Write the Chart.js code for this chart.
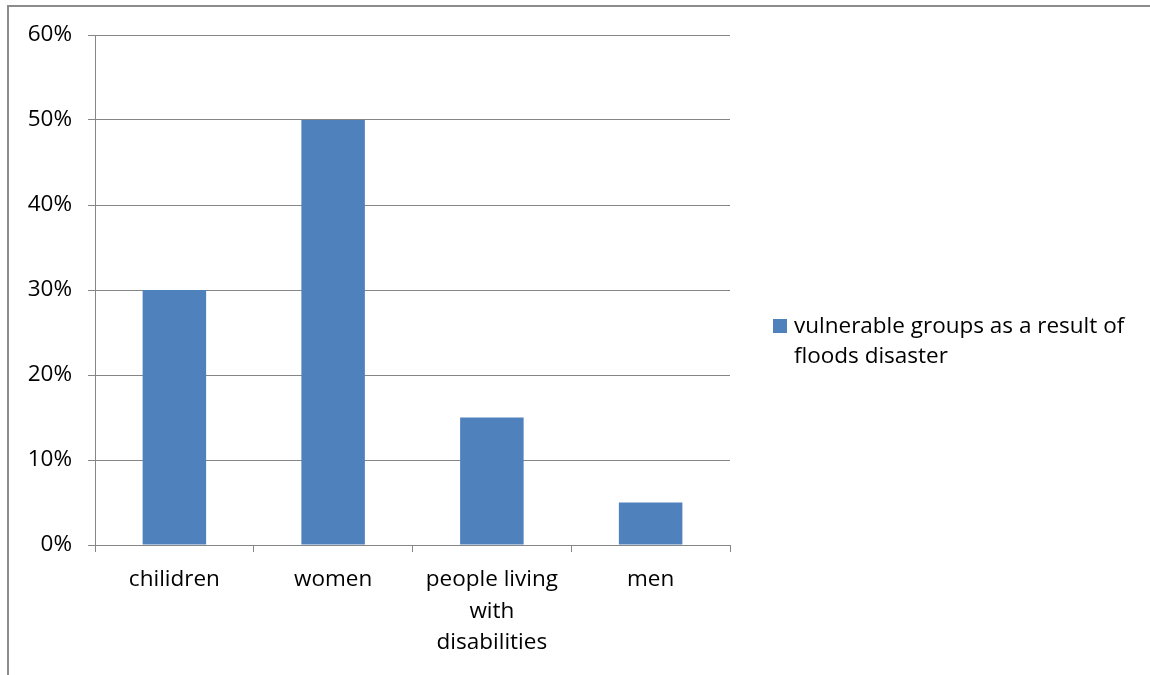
<!DOCTYPE html>
<html>
<head>
<meta charset="utf-8">
<script src="https://cdn.jsdelivr.net/npm/chart.js@4.4.1/dist/chart.umd.min.js"></script>
<style>
    html, body { margin: 0; padding: 0; background: #fff; }
    #wrap { position: relative; width: 1150px; height: 675px; overflow: hidden; }
    #frame {
        position: absolute; left: 7px; top: 5px; width: 1200px; height: 700px;
        border-top: 2px solid #8c8c8c; border-left: 2px solid #8c8c8c;
    }
    #chart { position: absolute; left: 0; top: 0; }
</style>
</head>
<body>
<div id="wrap">
    <div id="frame"></div>
    <canvas id="chart" width="1150" height="675"></canvas>
</div>
<script>
const categories = ['chilidren', 'women', ['people living', 'with', 'disabilities'], 'men'];
const shares = [30, 50, 15, 5];
const seriesLabel = 'vulnerable groups as a result of floods disaster';
const legendLines = ['vulnerable groups as a result of', 'floods disaster'];
const yTicks = [0, 10, 20, 30, 40, 50, 60];

const BAR_COLOR = '#4f81bd';
const GRID_COLOR = '#868686';
const FONT = "'Open Sans', 'Noto Sans', sans-serif";
const FONT_SIZE = 22.5;

// legend drawn by hand so the label can wrap onto two lines
const sideLegend = {
    id: 'sideLegend',
    afterDraw(chart) {
        const ctx = chart.ctx;
        const area = chart.chartArea;
        const x = area.right + 43;
        const mid = (area.top + area.bottom) / 2;
        ctx.save();
        ctx.fillStyle = BAR_COLOR;
        ctx.fillRect(x, mid + 29, 14, 14);
        ctx.fillStyle = '#000';
        ctx.font = FONT_SIZE + 'px ' + FONT;
        ctx.textBaseline = 'alphabetic';
        ctx.textAlign = 'left';
        legendLines.forEach((line, i) => {
            ctx.fillText(line, x + 21, mid + 43 + i * 30);
        });
        ctx.restore();
    }
};

new Chart(document.getElementById('chart'), {
    type: 'bar',
    data: {
        labels: categories,
        datasets: [{
            label: seriesLabel,
            data: shares,
            backgroundColor: BAR_COLOR,
            borderWidth: 0,
            barPercentage: 0.4,
            categoryPercentage: 1
        }]
    },
    options: {
        responsive: false,
        animation: false,
        layout: { padding: { top: 35, right: 420, left: 0, bottom: 0 } },
        plugins: {
            legend: { display: false },
            tooltip: { enabled: false }
        },
        scales: {
            x: {
                grid: {
                    offset: true,
                    drawOnChartArea: false,
                    color: GRID_COLOR,
                    tickLength: 7
                },
                border: { color: GRID_COLOR, width: 1 },
                ticks: {
                    color: '#000',
                    padding: 12,
                    maxRotation: 0,
                    autoSkip: false,
                    font: { family: FONT, size: FONT_SIZE, lineHeight: 1.4 }
                },
                afterFit: (scale) => { scale.height = 130; }
            },
            y: {
                min: 0,
                max: 60,
                afterBuildTicks: (scale) => {
                    scale.ticks = yTicks.map(v => ({ value: v }));
                },
                grid: { color: GRID_COLOR, tickLength: 7 },
                border: { color: GRID_COLOR, width: 1 },
                ticks: {
                    color: '#000',
                    padding: 16,
                    font: { family: FONT, size: FONT_SIZE },
                    callback: (v) => v + '%'
                },
                afterFit: (scale) => { scale.width = 95; }
            }
        }
    },
    plugins: [sideLegend]
});
</script>
</body>
</html>
